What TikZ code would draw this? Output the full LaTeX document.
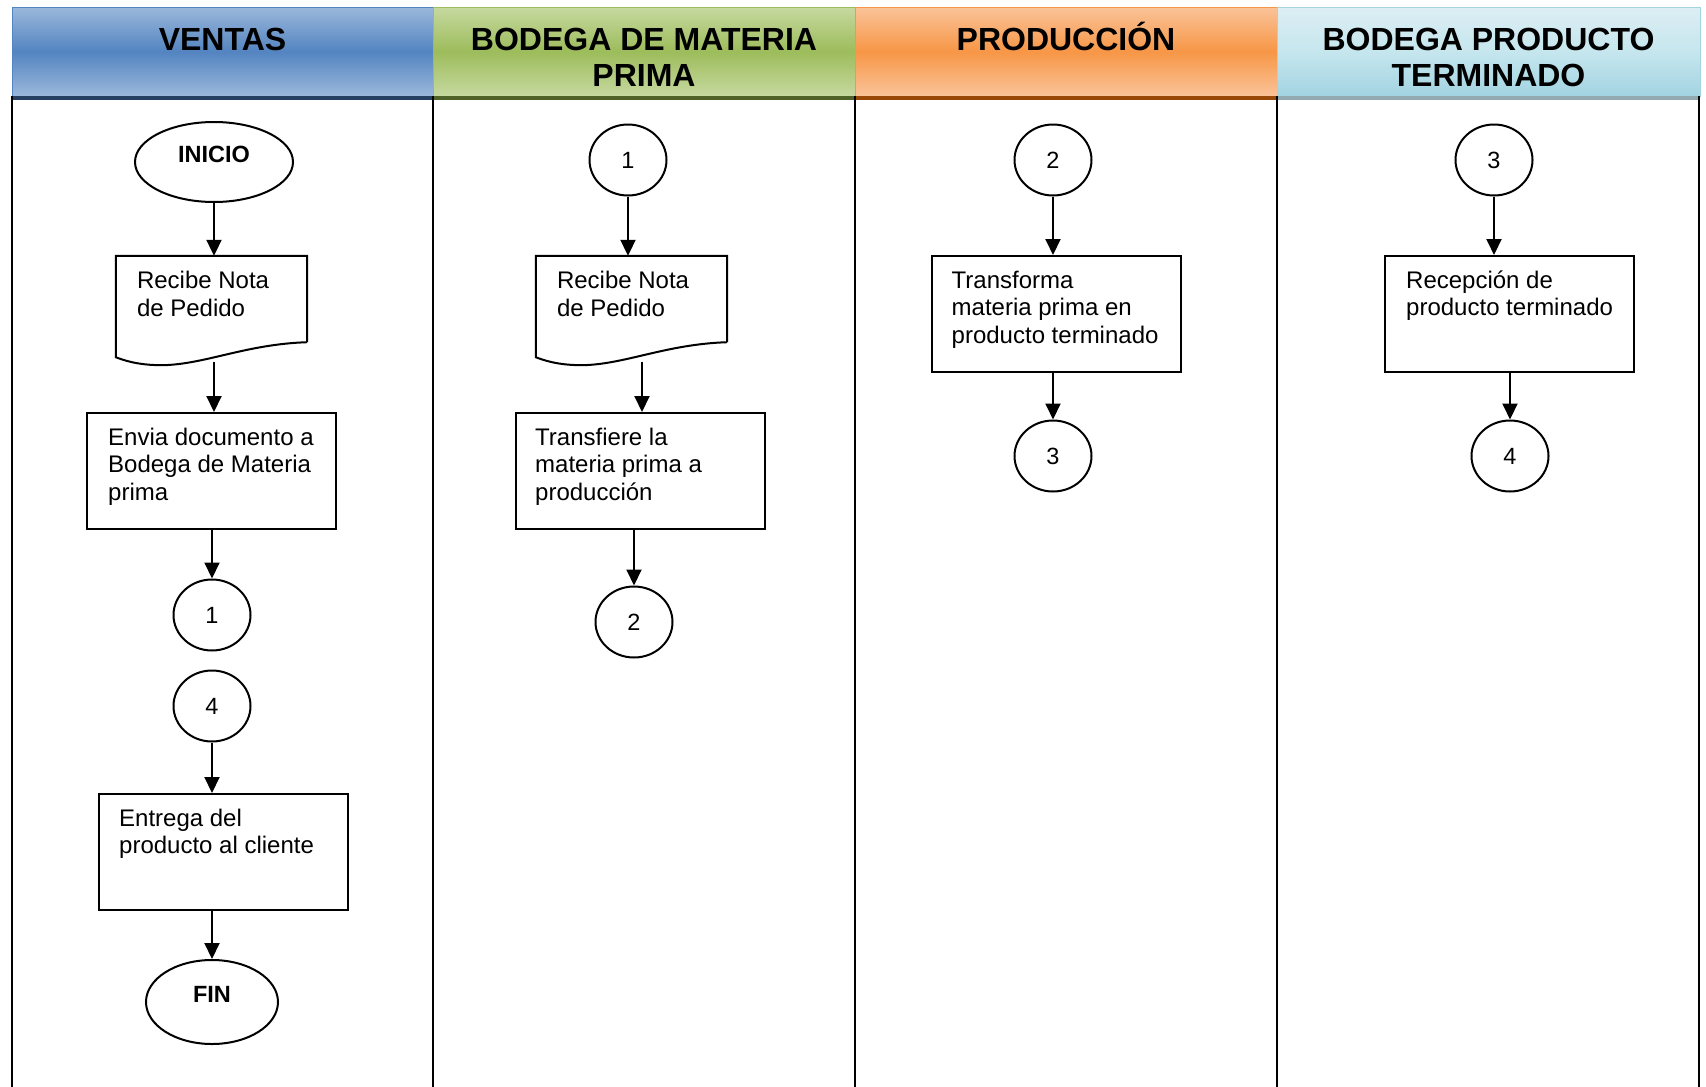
\documentclass[tikz,border=0pt]{standalone}
\usepackage{fontspec}
\setmainfont{Liberation Sans}
\usetikzlibrary{arrows.meta,calc,shapes.geometric}
\definecolor{bluetop}{HTML}{9BB8DB}
\definecolor{bluemid}{HTML}{5384C0}
\definecolor{bluebar}{HTML}{254061}
\definecolor{greentop}{HTML}{C6D9A0}
\definecolor{greenmid}{HTML}{9DBC5B}
\definecolor{greenbar}{HTML}{4F6228}
\definecolor{orangetop}{HTML}{FAC399}
\definecolor{orangemid}{HTML}{F79646}
\definecolor{orangebar}{HTML}{984807}
\definecolor{cyantop}{HTML}{DCEEF3}
\definecolor{cyanmid}{HTML}{C6E6EE}
\definecolor{cyanbot}{HTML}{A2D4E1}
\definecolor{cyanbar}{HTML}{93A9B0}
\tikzset{
  hdrtxt/.style={font=\bfseries\fontsize{32}{36}\selectfont, align=center, anchor=base, inner sep=0pt},
  bodytxt/.style={font=\fontsize{24}{27.5}\selectfont, align=left, anchor=base west, inner sep=0pt},
  pbox/.style={draw, line width=2pt, minimum width=249pt, minimum height=116pt, inner sep=0pt},
  docbox/.style={minimum width=191pt, minimum height=86pt, inner sep=0pt},
  conn/.style={draw, ellipse, line width=2pt, minimum width=77pt, minimum height=71pt, inner sep=0pt, font=\fontsize{23.5}{27}\selectfont},
  term/.style={draw, ellipse, line width=2pt, inner sep=0pt, font=\bfseries\fontsize{23.5}{27}\selectfont, text height=16pt, text depth=16pt},
  arr/.style={line width=2pt, -{Triangle[width=15pt,length=16pt]}},
  lane/.style={line width=1.6pt},
  docline/.style={line width=2pt},
}
\begin{document}
\begin{tikzpicture}[x=1pt,y=-1pt]
\useasboundingbox (0,0) rectangle (1706,1087);
\fill[white] (0,0) rectangle (1706,1087);

% headers
\shade[top color=bluetop, bottom color=bluetop, middle color=bluemid] (12,7) rectangle (433,96);
\draw[bluemid, line width=1pt] (12,7) rectangle (433,96);
\fill[bluebar] (12,96) rectangle (433,100);
\shade[top color=greentop, bottom color=greentop, middle color=greenmid] (433,7) rectangle (855,96);
\draw[greenmid, line width=1pt] (433,7) rectangle (855,96);
\fill[greenbar] (433,96) rectangle (855,100);
\shade[top color=orangetop, bottom color=orangetop, middle color=orangemid] (855,7) rectangle (1277,96);
\draw[orangemid, line width=1pt] (855,7) rectangle (1277,96);
\fill[orangebar] (855,96) rectangle (1277,100);
\shade[top color=cyantop, bottom color=cyanbot, middle color=cyanmid] (1277,7) rectangle (1700,96);
\draw[cyanbot, line width=1pt] (1277,7) rectangle (1700,96);
\fill[cyanbar] (1277,96) rectangle (1700,100);

\node[hdrtxt] (h1) at (222.5,50) {VENTAS};
\node[hdrtxt] (h2) at (644,86) {BODEGA DE MATERIA\\PRIMA};
\node[hdrtxt] (h3) at (1066,50) {PRODUCCIÓN};
\node[hdrtxt] (h4) at (1488.5,86) {BODEGA PRODUCTO\\TERMINADO};

% lane lines
\draw[lane] (12,96) -- (12,1087);
\draw[lane] (433,96) -- (433,1087);
\draw[lane] (855,96) -- (855,1087);
\draw[lane] (1277,96) -- (1277,1087);
\draw[lane] (1699,96) -- (1699,1087);

% ===== VENTAS =====
\node[term, minimum width=158pt, minimum height=80pt] (inicio) at (214,162) {INICIO};
\node[docbox] (docV) at (211.5,299) {};
\draw[docline] (docV.south east) -- (docV.north east) -- (docV.north west) -- ($(docV.south west)+(0,15)$)
  .. controls ($(docV.south west)+(15,21)$) and ($(docV.south west)+(30,23)$) .. ($(docV.south west)+(47,23)$)
  .. controls ($(docV.south west)+(90,22)$) and ($(docV.south west)+(130,2)$) .. (docV.south east);
\node[bodytxt] (tdocV) at ($(docV.north west)+(21,60.5)$) {Recibe Nota\\de Pedido};
\coordinate (docVout) at (214,362);
\node[pbox] (envia) at (211.5,471) {};
\node[bodytxt] (tenvia) at ($(envia.north west)+(22,88)$) {Envia documento a\\Bodega de Materia\\prima};
\node[conn] (c1V) at (212,615) {1};
\node[conn] (c4V) at (212,706) {4};
\node[pbox] (entrega) at (223.5,852) {};
\node[bodytxt] (tentrega) at ($(entrega.north west)+(21,60.5)$) {Entrega del\\producto al cliente};
\node[term, minimum width=132pt, minimum height=84pt] (fin) at (212,1002) {FIN};

\draw[arr] (inicio.south) -- (inicio.south |- docV.north);
\draw[arr] (docVout) -- (docVout |- envia.north);
\draw[arr] (c1V.north |- envia.south) -- (c1V.north);
\draw[arr] (c4V.south) -- (c4V.south |- entrega.north);
\draw[arr] (fin.north |- entrega.south) -- (fin.north);

% ===== BODEGA DE MATERIA PRIMA =====
\node[conn] (c1B) at (628,160) {1};
\node[docbox] (docB) at (631.5,299) {};
\draw[docline] (docB.south east) -- (docB.north east) -- (docB.north west) -- ($(docB.south west)+(0,15)$)
  .. controls ($(docB.south west)+(15,21)$) and ($(docB.south west)+(30,23)$) .. ($(docB.south west)+(47,23)$)
  .. controls ($(docB.south west)+(90,22)$) and ($(docB.south west)+(130,2)$) .. (docB.south east);
\node[bodytxt] (tdocB) at ($(docB.north west)+(21,60.5)$) {Recibe Nota\\de Pedido};
\coordinate (docBout) at (642,362);
\node[pbox] (transf) at (640.5,471) {};
\node[bodytxt] (ttransf) at ($(transf.north west)+(20,88)$) {Transfiere la\\materia prima a\\producción};
\node[conn] (c2B) at (634,622) {2};

\draw[arr] (c1B.south) -- (c1B.south |- docB.north);
\draw[arr] (docBout) -- (docBout |- transf.north);
\draw[arr] (c2B.north |- transf.south) -- (c2B.north);

% ===== PRODUCCION =====
\node[conn] (c2P) at (1053,160) {2};
\node[pbox] (transfo) at (1056,314) {};
\node[bodytxt] (ttransfo) at ($(transfo.north west)+(21,88)$) {Transforma\\materia prima en\\producto terminado};
\node[conn] (c3P) at (1053,456) {3};
\draw[arr] (c2P.south) -- (c2P.south |- transfo.north);
\draw[arr] (c3P.north |- transfo.south) -- (c3P.north);

% ===== BODEGA PRODUCTO TERMINADO =====
\node[conn] (c3T) at (1494,160) {3};
\node[pbox] (recep) at (1509.5,314) {};
\node[bodytxt] (trecep) at ($(recep.north west)+(22,60.5)$) {Recepción de\\producto terminado};
\node[conn] (c4T) at (1510,456) {4};
\draw[arr] (c3T.south) -- (c3T.south |- recep.north);
\draw[arr] (c4T.north |- recep.south) -- (c4T.north);
\end{tikzpicture}
\end{document}
